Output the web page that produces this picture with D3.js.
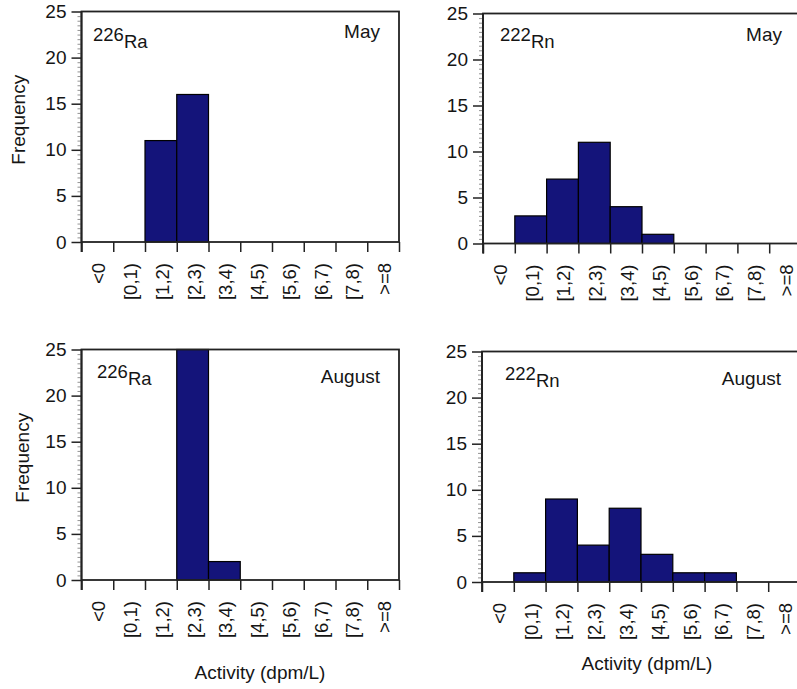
<!DOCTYPE html>
<html>
<head>
<meta charset="utf-8">
<script src="https://cdn.jsdelivr.net/npm/d3@7/dist/d3.min.js"></script>
<style>
  html, body { margin: 0; padding: 0; background: #fff; }
  svg { display: block; }
  text { font-family: "Liberation Sans", Arial, Helvetica, sans-serif; fill: #151515; }
</style>
</head>
<body>
<svg id="chart" width="797" height="689"></svg>
<script>
// Activity bins (dpm/L)
const categories = ["<0", "[0,1)", "[1,2)", "[2,3)", "[3,4)", "[4,5)", "[5,6)", "[6,7)", "[7,8)", ">=8"];

// Sample counts per bin
const raMay = [0, 0, 11, 16, 0, 0, 0, 0, 0, 0];
const rnMay = [0, 3, 7, 11, 4, 1, 0, 0, 0, 0];
const raAug = [0, 0, 0, 25, 2, 0, 0, 0, 0, 0];
const rnAug = [0, 1, 9, 4, 8, 3, 1, 1, 0, 0];

const yMajorTicks = [0, 5, 10, 15, 20, 25];
const yMax = 25;

// Panel descriptions: which series, isotope labels and month
const panels = [
  { values: raMay, mass: "226", element: "Ra", month: "May",    yTitle: "Frequency", xTitle: null },
  { values: rnMay, mass: "222", element: "Rn", month: "May",    yTitle: null,        xTitle: null },
  { values: raAug, mass: "226", element: "Ra", month: "August", yTitle: "Frequency", xTitle: "Activity (dpm/L)" },
  { values: rnAug, mass: "222", element: "Rn", month: "August", yTitle: null,        xTitle: "Activity (dpm/L)" }
];

// Plot-area geometry of each panel
const frames = [
  { x0: 81.5, x1: 399, top: 11.5, zero: 242, isoX: 93,  isoY: 41,  monthY: 38,  yTitleX: 25, xTitleX: 260, xTitleY: 679 },
  { x0: 483,  x1: 801, top: 13.5, zero: 243.5, isoX: 500, isoY: 41, monthY: 41, yTitleX: 0, xTitleX: 0, xTitleY: 0 },
  { x0: 81.5, x1: 399, top: 349.5, zero: 580, isoX: 97,  isoY: 378, monthY: 383, yTitleX: 29, xTitleX: 260, xTitleY: 679 },
  { x0: 482,  x1: 800, top: 351.5, zero: 582, isoX: 505, isoY: 380, monthY: 385, yTitleX: 0, xTitleX: 647, xTitleY: 670 }
];

const svg = d3.select("#chart");
const barColor = "#14147a";
const lineColor = "#222";
const fontStack = "'Liberation Sans', Arial, sans-serif";

panels.forEach((p, i) => {
  const f = frames[i];
  const g = svg.append("g");

  const x = d3.scaleBand().domain(categories).range([f.x0, f.x1]).padding(0);
  const xEdges = d3.scaleLinear().domain([0, categories.length]).range([f.x0, f.x1]);
  const y = d3.scaleLinear().domain([0, yMax]).range([f.zero, f.top]);

  // Bars
  g.append("g").selectAll("rect")
    .data(categories.map((c, k) => ({ c, v: p.values[k] })).filter(d => d.v > 0))
    .join("rect")
    .attr("x", d => x(d.c))
    .attr("y", d => y(d.v))
    .attr("width", x.bandwidth())
    .attr("height", d => y(0) - y(d.v))
    .attr("fill", barColor)
    .attr("stroke", "#000")
    .attr("stroke-width", 1.2);

  // Frame (top and right edges, bottom at zero)
  g.append("rect")
    .attr("x", f.x0).attr("y", f.top)
    .attr("width", f.x1 - f.x0).attr("height", f.zero - f.top)
    .attr("fill", "none").attr("stroke", lineColor).attr("stroke-width", 1.8);

  // Minor y ticks
  const minor = g.append("g").attr("transform", `translate(${f.x0},0)`)
    .call(d3.axisLeft(y)
      .tickValues(d3.range(0, yMax + 0.01, 0.5).filter(v => v % 5 !== 0))
      .tickSize(4).tickFormat(""));
  minor.select(".domain").remove();
  minor.selectAll("line").attr("stroke", "#777").attr("stroke-width", 0.8);

  // Major y ticks and labels
  const ya = g.append("g").attr("transform", `translate(${f.x0},0)`)
    .call(d3.axisLeft(y).tickValues(yMajorTicks).tickSize(10).tickPadding(5).tickFormat(d3.format("d")));
  ya.select(".domain").remove();
  ya.selectAll("line").attr("stroke", lineColor).attr("stroke-width", 1.5);
  ya.selectAll("text").attr("font-size", 19).attr("fill", "#151515")
    .style("font-family", fontStack);

  // Y axis line, continuing down to tick length
  g.append("line")
    .attr("x1", f.x0).attr("x2", f.x0)
    .attr("y1", f.top).attr("y2", f.zero + 10)
    .attr("stroke", lineColor).attr("stroke-width", 1.8);

  // Bin boundary ticks
  const edges = g.append("g").attr("transform", `translate(0,${f.zero})`)
    .call(d3.axisBottom(xEdges).tickValues(d3.range(0, categories.length + 1)).tickSize(10).tickFormat(""));
  edges.select(".domain").remove();
  edges.selectAll("line").attr("stroke", lineColor).attr("stroke-width", 1.5);

  // Bin labels, rotated
  const xl = g.append("g").attr("transform", `translate(0,${f.zero})`)
    .call(d3.axisBottom(x).tickSize(0));
  xl.select(".domain").remove();
  xl.selectAll("text")
    .attr("transform", "rotate(-90)")
    .attr("x", -21).attr("y", 1.5).attr("dy", "0.35em")
    .attr("text-anchor", "end")
    .attr("font-size", 18.5).attr("fill", "#151515")
    .style("font-family", fontStack);

  // Isotope label with raised mass number
  const iso = g.append("text").attr("x", f.isoX).attr("y", f.isoY).attr("font-size", 18.5);
  iso.append("tspan").text(p.mass);
  iso.append("tspan").attr("dy", 7).text(p.element);

  // Month label
  g.append("text")
    .attr("x", f.x1 - 19).attr("y", f.monthY)
    .attr("text-anchor", "end").attr("font-size", 19)
    .text(p.month);

  if (p.yTitle) {
    g.append("text")
      .attr("transform", `translate(${f.yTitleX},${(f.top + f.zero) / 2 - 7}) rotate(-90)`)
      .attr("text-anchor", "middle").attr("font-size", 19)
      .text(p.yTitle);
  }
  if (p.xTitle) {
    g.append("text")
      .attr("x", f.xTitleX).attr("y", f.xTitleY)
      .attr("text-anchor", "middle").attr("font-size", 19)
      .text(p.xTitle);
  }
});
</script>
</body>
</html>
